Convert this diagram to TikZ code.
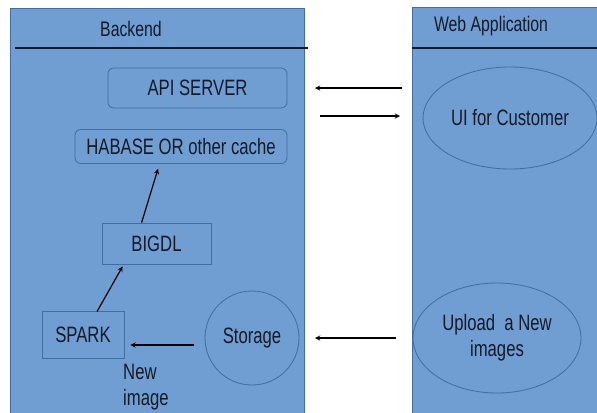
\documentclass[tikz,border=0pt]{standalone}
\usepackage{fontspec}
\setmainfont{Liberation Sans}[FakeStretch=0.75]
\usetikzlibrary{shapes.geometric,calc}

\definecolor{panelblue}{RGB}{112,157,210}
\definecolor{edgeblue}{RGB}{68,108,165}
\definecolor{inkdark}{RGB}{20,26,40}

\begin{document}
\begin{tikzpicture}[x=0.03cm, y=-0.03cm, >=stealth,
  panel/.style={draw=edgeblue, fill=panelblue, line width=0.8pt},
  header/.style={draw=inkdark, line width=1.3pt},
  title node/.style={text=inkdark, font=\fontsize{18}{20}\selectfont},
  main node/.style={draw=edgeblue, fill=panelblue, text=inkdark, line width=0.7pt,
    font=\fontsize{19}{22}\selectfont, inner sep=0pt, align=center},
  flow/.style={->, line width=1pt, black}]

  \useasboundingbox (0,0) rectangle (597,412);

  % the two columns
  \draw[panel] (10,8) rectangle (304,416);
  \draw[panel] (412,7) rectangle (600,416);
  \draw[header] (15,48) -- (308,48);
  \draw[header] (412,48) -- (597,48);
  \node[title node] (backend) at (131,29) {Backend};
  \node[title node] (webapp) at (491,26) {Web Application};

  % backend
  \node[main node, rounded corners=5pt, minimum width=5.37cm, minimum height=1.2cm] (api) at (197.5,88) {API SERVER};
  \node[main node, rounded corners=5pt, minimum width=6.36cm, minimum height=1.02cm] (cache) at (181,146.5) {HABASE OR other cache};
  \node[main node, minimum width=3.27cm, minimum height=1.23cm] (bigdl) at (156.5,243.5) {BIGDL};
  \node[main node, minimum width=2.46cm, minimum height=1.41cm] (spark) at (83,334.5) {SPARK};
  \node[main node, circle, minimum size=2.82cm] (storage) at (252,338) {Storage};
  \node[text=inkdark, font=\fontsize{19}{22}\selectfont, align=left, anchor=west, inner sep=0pt] (newimg) at (123,387) {New\\image};

  % web application
  \node[main node, ellipse, minimum width=5.22cm, minimum height=3.06cm] (ui) at (510,118) {UI for Customer};
  \node[main node, ellipse, minimum width=5.04cm, minimum height=3.3cm] (upload) at (497,338) {Upload~~a New\\images};

  \coordinate (ui out) at (402,88);
  \coordinate (api in) at (315,88);
  \coordinate (api out) at (320,116);
  \coordinate (ui in) at (400,116);
  \coordinate (upload out) at (396,338);
  \coordinate (storage in) at (315,338);

  \draw[flow] (ui out) -- (api in);
  \draw[flow] (api out) -- (ui in);
  \draw[flow] (upload out) -- (storage in);
  \draw[flow] ($(storage.west)+(-11,7)$) -- ($(spark.east)+(6,10.5)$);
  \draw[flow] ($(spark.north)+(14,1)$) -- ($(bigdl.south west)+(21,2)$);
  \draw[flow] ($(bigdl.north west)+(40,0)$) -- ($(cache.south)+(-23,5)$);
\end{tikzpicture}
\end{document}
